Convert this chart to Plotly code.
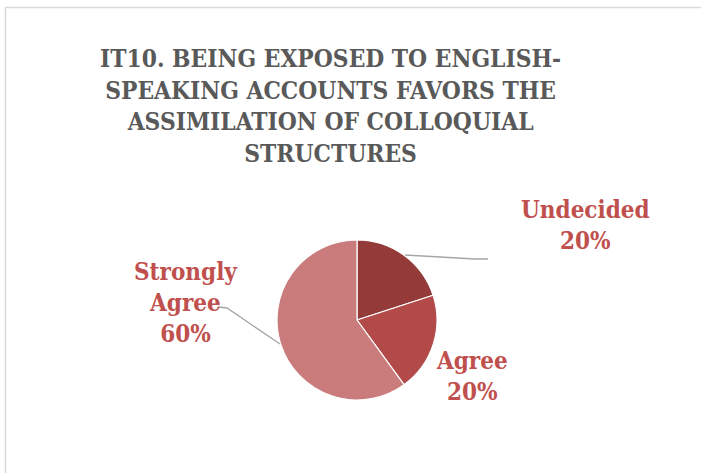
import plotly.graph_objects as go

# Survey item IT10: share of answers per category
categories = ["Undecided", "Agree", "Strongly Agree"]
values = [20, 20, 60]
slice_colors = ["#943a38", "#b14a48", "#c97c7b"]
label_lines = ["Undecided", "Agree", "Strongly<br>Agree"]

title_text = ("IT10. BEING EXPOSED TO ENGLISH-<br>SPEAKING ACCOUNTS FAVORS THE<br>"
              "ASSIMILATION OF COLLOQUIAL<br>STRUCTURES")

W, H = 701, 473
FONT = "DejaVu Serif Condensed, DejaVu Serif, serif"


def px(x):
    return x / W


def py(y):
    return 1 - y / H


# pie centre and radius in pixels
cx, cy, r = 357, 320, 80

fig = go.Figure(go.Pie(
    labels=categories,
    values=values,
    sort=False,
    direction="clockwise",
    rotation=0,
    marker=dict(colors=slice_colors, line=dict(color="white", width=1.2)),
    textinfo="none",
    hoverinfo="label+percent",
    domain=dict(x=[px(cx - r), px(cx + r)], y=[py(cy + r), py(cy - r)]),
    showlegend=False,
))

total = sum(values)
label_pos = {
    "Undecided": (585, 225),
    "Agree": (472, 376),
    "Strongly Agree": (186, 302),
}
annotations = [dict(
    text=f"<b>{title_text}</b>", x=px(330), y=py(106), xref="paper", yref="paper",
    xanchor="center", yanchor="middle", showarrow=False,
    font=dict(family=FONT, size=24.3, color="#595959"), align="center",
)]
for cat, lab, v in zip(categories, label_lines, values):
    lx, ly = label_pos[cat]
    annotations.append(dict(
        text=f"<b>{lab}<br>{round(100 * v / total)}%</b>",
        x=px(lx), y=py(ly), xref="paper", yref="paper",
        xanchor="center", yanchor="middle", showarrow=False, align="center",
        font=dict(family=FONT, size=24, color="#c0504d"),
    ))

leader = dict(color="#a6a6a6", width=1.3)
shapes = [
    # chart frame
    dict(type="rect", xref="paper", yref="paper", x0=px(5.5), y0=py(490), x1=px(720), y1=py(7.5),
         line=dict(color="#d9d9d9", width=1.5), fillcolor="rgba(0,0,0,0)", layer="below"),
    # leader lines
    dict(type="path", xref="paper", yref="paper",
         path=f"M {px(405)},{py(255)} L {px(475)},{py(259)} L {px(488)},{py(259)}", line=leader),
    dict(type="path", xref="paper", yref="paper",
         path=f"M {px(218)},{py(307)} L {px(227)},{py(308)} L {px(280)},{py(344)}", line=leader),
]

fig.update_layout(
    width=W, height=H,
    margin=dict(l=0, r=0, t=0, b=0),
    paper_bgcolor="white", plot_bgcolor="white",
    annotations=annotations, shapes=shapes,
)

fig.write_html("out.html")
